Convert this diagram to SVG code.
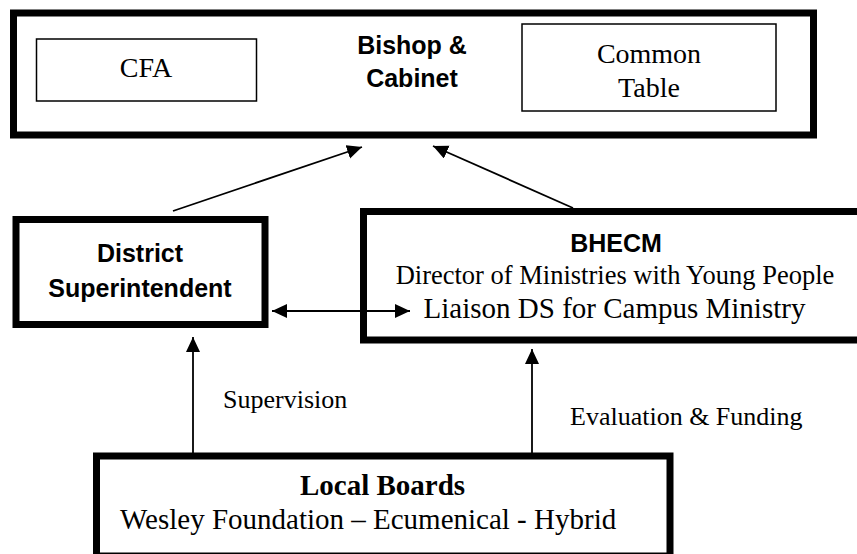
<svg xmlns="http://www.w3.org/2000/svg" width="857" height="554" viewBox="0 0 857 554">
<style>
.thick{fill:#fff;stroke:#000;stroke-width:7}
.thin{fill:#fff;stroke:#000;stroke-width:1.5}
.serif{font-family:"Liberation Serif","Times New Roman",serif;fill:#000}
.sans{font-family:"Liberation Sans",Arial,sans-serif;font-weight:bold;fill:#000;font-size:25px}
.conn{stroke:#000;stroke-width:1.8;fill:none}
</style>
<defs>
<marker id="ah" markerUnits="userSpaceOnUse" markerWidth="16" markerHeight="15" refX="15" refY="7" orient="auto-start-reverse">
<path d="M0,0 L15,7 L0,14 z" fill="#000"/>
</marker>
</defs>
<rect width="857" height="554" fill="#fff"/>
<g id="bishop-cabinet">
<rect class="thick" x="13.5" y="13" width="800" height="122"/>
<text class="sans" x="412" y="54" text-anchor="middle">Bishop &amp;</text>
<text class="sans" x="412" y="87" text-anchor="middle">Cabinet</text>
</g>
<g id="cfa">
<rect class="thin" x="36.5" y="39" width="220" height="62"/>
<text class="serif" x="146" y="77" font-size="28" text-anchor="middle">CFA</text>
</g>
<g id="common-table">
<rect class="thin" x="522" y="24" width="254" height="87"/>
<text class="serif" x="649" y="63" font-size="28" text-anchor="middle">Common</text>
<text class="serif" x="649" y="97" font-size="28" text-anchor="middle">Table</text>
</g>
<g id="district-superintendent">
<rect class="thick" x="16" y="219.5" width="249" height="105"/>
<text class="sans" x="140" y="262" text-anchor="middle">District</text>
<text class="sans" x="140" y="297" text-anchor="middle">Superintendent</text>
</g>
<g id="bhecm">
<rect class="thick" x="363.5" y="211.5" width="510" height="128.5"/>
<text class="sans" x="616" y="252" text-anchor="middle">BHECM</text>
<text class="serif" x="615" y="284" font-size="26.5" text-anchor="middle">Director of Ministries with Young People</text>
<text class="serif" x="614.5" y="318" font-size="29" text-anchor="middle">Liaison DS for Campus Ministry</text>
</g>
<g id="local-boards">
<rect class="thick" x="96.5" y="456" width="573.5" height="100"/>
<text class="serif" x="300" y="495" font-size="29" font-weight="bold">Local Boards</text>
<text class="serif" x="120" y="529" font-size="29">Wesley Foundation – Ecumenical - Hybrid</text>
</g>
<g id="connectors">
<line class="conn" x1="173" y1="211" x2="362" y2="147" marker-end="url(#ah)"/>
<line class="conn" x1="573" y1="208" x2="433" y2="146" marker-end="url(#ah)"/>
<line class="conn" x1="272" y1="311" x2="410" y2="311" marker-start="url(#ah)" marker-end="url(#ah)"/>
<line class="conn" x1="193" y1="456" x2="193" y2="337" marker-end="url(#ah)"/>
<line class="conn" x1="532" y1="456" x2="532" y2="349" marker-end="url(#ah)"/>
<text class="serif" x="223" y="408" font-size="26">Supervision</text>
<text class="serif" x="570" y="425" font-size="26">Evaluation &amp; Funding</text>
</g>
</svg>
